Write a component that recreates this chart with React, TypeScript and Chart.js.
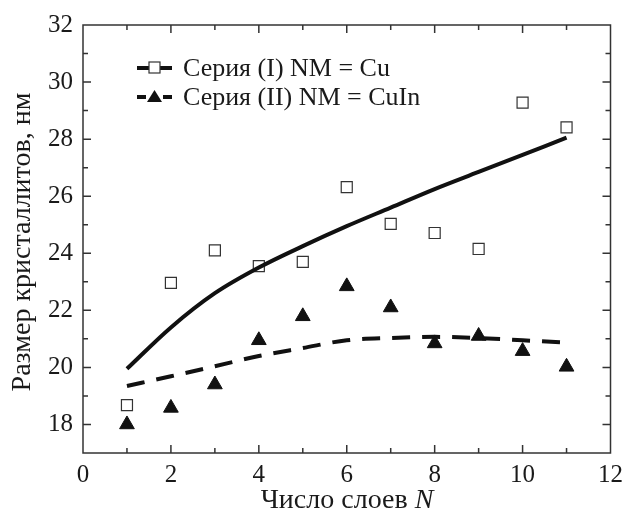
import React, { useEffect, useRef } from "react";
import { Chart, registerables } from "chart.js";
Chart.register(...registerables);

const layersN = [1, 2, 3, 4, 5, 6, 7, 8, 9, 10, 11];
const seriesI = [18.68, 22.96, 24.1, 23.55, 23.7, 26.32, 25.03, 24.71, 24.15, 29.28, 28.41];
const seriesII = [18.0, 18.58, 19.4, 20.95, 21.79, 22.84, 22.1, 20.84, 21.1, 20.57, 20.02];
const fitI = [19.95, 21.4, 22.6, 23.5, 24.25, 24.95, 25.6, 26.25, 26.85, 27.45, 28.05];
const fitII = [19.35, 19.69, 20.04, 20.4, 20.68, 20.95, 21.03, 21.07, 21.03, 20.95, 20.87];
const legendLabels = ["Серия (I) NM = Cu", "Серия (II) NM = CuIn"];
const xTitle = "Число слоев ";
const xTitleItalic = "N";
const yTitle = "Размер кристаллитов, нм";

const FONT = "'Liberation Serif', 'Times New Roman', serif";
const INK = "#1a1a1a";

const pts = (ys: number[]) => layersN.map((x, i) => ({ x, y: ys[i] }));

const decorPlugin = {
  id: "decor",
  afterDraw(chart: any) {
    const ctx = chart.ctx;
    const { left, right, top, bottom } = chart.chartArea;
    const xs = chart.scales.x;
    const ys = chart.scales.y;
    ctx.save();
    ctx.strokeStyle = "#333";
    ctx.lineWidth = 1.5;
    ctx.strokeRect(left, top, right - left, bottom - top);
    for (let v = 1; v <= 11; v++) {
      const px = xs.getPixelForValue(v);
      const len = v % 2 === 0 ? 8 : 5;
      ctx.beginPath();
      ctx.moveTo(px, bottom);
      ctx.lineTo(px, bottom - len);
      ctx.moveTo(px, top);
      ctx.lineTo(px, top + len);
      ctx.stroke();
    }
    for (let v = 18; v <= 31; v++) {
      const py = ys.getPixelForValue(v);
      const len = v % 2 === 0 ? 8 : 5;
      ctx.beginPath();
      ctx.moveTo(left, py);
      ctx.lineTo(left + len, py);
      ctx.moveTo(right, py);
      ctx.lineTo(right - len, py);
      ctx.stroke();
    }
    // legend
    ctx.font = `26px ${FONT}`;
    ctx.textBaseline = "middle";
    const lx0 = 137, lx1 = 172, lxm = 154.5;
    const rows = [68, 97];
    rows.forEach((ly, i) => {
      ctx.strokeStyle = "#111";
      ctx.lineWidth = 4;
      ctx.beginPath();
      if (i === 0) {
        ctx.moveTo(lx0, ly);
        ctx.lineTo(lx1, ly);
      } else {
        ctx.moveTo(lx0, ly);
        ctx.lineTo(lx0 + 9, ly);
        ctx.moveTo(lx1 - 9, ly);
        ctx.lineTo(lx1, ly);
      }
      ctx.stroke();
      if (i === 0) {
        ctx.fillStyle = "#fff";
        ctx.fillRect(lxm - 5.5, ly - 6, 11, 11);
        ctx.strokeStyle = "#333";
        ctx.lineWidth = 1.2;
        ctx.strokeRect(lxm - 5.5, ly - 6, 11, 11);
      } else {
        ctx.fillStyle = "#111";
        ctx.beginPath();
        ctx.moveTo(lxm, ly - 7);
        ctx.lineTo(lxm + 7.5, ly + 5);
        ctx.lineTo(lxm - 7.5, ly + 5);
        ctx.closePath();
        ctx.fill();
      }
      ctx.fillStyle = INK;
      ctx.textAlign = "left";
      ctx.fillText(legendLabels[i], 183, ly + 1);
    });
    // x title
    ctx.font = `28px ${FONT}`;
    ctx.textBaseline = "alphabetic";
    const w1 = ctx.measureText(xTitle).width;
    ctx.font = `italic 28px ${FONT}`;
    const w2 = ctx.measureText(xTitleItalic).width;
    const cx = 347;
    const sx = cx - (w1 + w2) / 2;
    ctx.font = `28px ${FONT}`;
    ctx.textAlign = "left";
    ctx.fillText(xTitle, sx, 508);
    ctx.font = `italic 28px ${FONT}`;
    ctx.fillText(xTitleItalic, sx + w1, 508);
    // y title
    ctx.translate(23, 242);
    ctx.rotate(-Math.PI / 2);
    ctx.font = `28px ${FONT}`;
    ctx.textAlign = "center";
    ctx.textBaseline = "middle";
    ctx.fillText(yTitle, 0, 0);
    ctx.restore();
  },
};

export default function App() {
  const ref = useRef<HTMLCanvasElement | null>(null);
  useEffect(() => {
    document.body.style.margin = "0";
    const canvas = ref.current!;
    const chart = new Chart(canvas, {
      type: "scatter",
      data: {
        datasets: [
          {
            label: "fitI",
            data: pts(fitI),
            showLine: true,
            borderColor: "#111",
            borderWidth: 4,
            pointRadius: 0,
            tension: 0.4,
            cubicInterpolationMode: "monotone",
          },
          {
            label: "fitII",
            data: pts(fitII),
            showLine: true,
            borderColor: "#111",
            borderWidth: 4,
            borderDash: [18, 12],
            pointRadius: 0,
            tension: 0.4,
            cubicInterpolationMode: "monotone",
          },
          {
            label: legendLabels[0],
            data: pts(seriesI),
            pointStyle: "rect",
            pointRadius: 7.8,
            backgroundColor: "rgba(255,255,255,0)",
            borderColor: "#333",
            borderWidth: 1.2,
          },
          {
            label: legendLabels[1],
            data: pts(seriesII),
            pointStyle: "triangle",
            pointRadius: 8.5,
            backgroundColor: "#111",
            borderColor: "#111",
            borderWidth: 1,
          },
        ],
      } as any,
      options: {
        animation: false,
        responsive: false,
        layout: { padding: { top: 25, right: 15, left: 0, bottom: 0 } },
        plugins: { legend: { display: false }, tooltip: { enabled: false } },
        scales: {
          x: {
            type: "linear",
            min: 0,
            max: 12,
            grid: { display: false, drawTicks: false },
            border: { display: false },
            afterFit: (s: any) => {
              s.height = 62;
            },
            ticks: {
              stepSize: 1,
              padding: 7,
              color: INK,
              font: { family: FONT, size: 25 },
              callback: (v: any) => (v % 2 === 0 ? String(v) : ""),
              maxRotation: 0,
              autoSkip: false,
            },
          },
          y: {
            type: "linear",
            min: 17,
            max: 32,
            grid: { display: false, drawTicks: false },
            border: { display: false },
            afterFit: (s: any) => {
              s.width = 83;
            },
            ticks: {
              stepSize: 1,
              padding: 10,
              color: INK,
              font: { family: FONT, size: 25 },
              callback: (v: any) => (v % 2 === 0 ? String(v) : ""),
              autoSkip: false,
            },
          },
        },
      } as any,
      plugins: [decorPlugin],
    });
    return () => chart.destroy();
  }, []);
  return <canvas ref={ref} width={630} height={515} style={{ display: "block" }} />;
}
